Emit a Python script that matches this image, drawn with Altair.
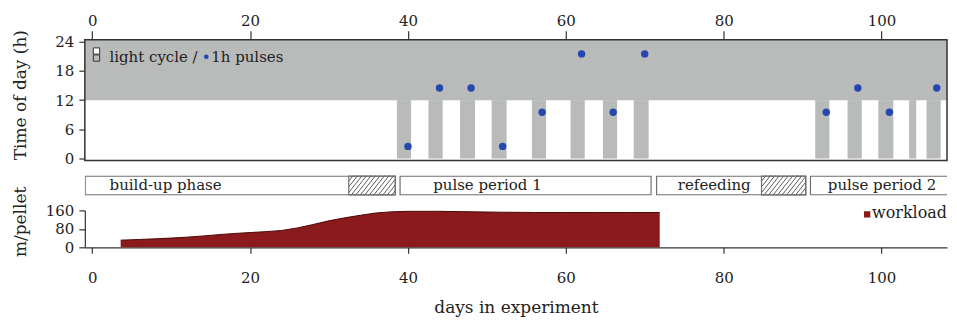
import altair as alt
import pandas as pd

# ---------------- data ----------------
day_ticks = [0, 20, 40, 60, 80, 100]
x_domain = [-0.94, 108.3]
hour_ticks = [0, 6, 12, 18, 24]
hour_domain = [-0.4, 24.4]
work_ticks = [0, 80, 160]
work_domain = [0, 160]

# light cycle: dark from 12 h to 24 h on every day
dark_from_hour = [12]
dark_from_day = [-1.0]
dark_to_day = [112.0]

# days with darkness also from 0 h to 12 h
dd_start = [38.6, 42.6, 46.6, 50.6, 55.7, 60.6, 64.7, 68.6, 91.6, 95.7, 99.6, 103.5, 105.7]
dd_end = [40.4, 44.4, 48.5, 52.5, 57.5, 62.4, 66.5, 70.5, 93.4, 97.5, 101.5, 104.4, 107.5]

# 1 h light pulses
pulse_day = [40, 44, 48, 52, 57, 62, 66, 70, 93, 97, 101, 107]
pulse_hour = [2.5, 14.5, 14.5, 2.5, 9.5, 21.5, 9.5, 21.5, 9.5, 14.5, 9.5, 14.5]

# experimental phases
phase_name = ["build-up phase", "pulse period 1", "refeeding", "pulse period 2"]
phase_start = [-0.9, 39.0, 71.5, 91.0]
phase_end = [38.4, 70.8, 90.4, 115.0]
phase_label_day = [2.2, 43.2, 74.2, 93.2]
hatch_start = [32.5, 84.8]
hatch_end = [38.4, 90.4]

# workload (m/pellet)
work_day = [3.6, 6, 8, 10, 12, 14, 16, 18, 20, 22, 24, 26, 28, 30, 32, 34, 36, 38,
            40, 44, 48, 52, 56, 60, 64, 68, 71.9]
work_val = [31, 34, 37, 40, 44, 49, 55, 60, 64, 68, 73, 84, 99, 115, 128, 139, 149, 154,
            156, 156, 154, 152, 151, 151, 151, 151, 151]

# ---------------- style ----------------
W = 864
H_TOP, H_PH, H_BOT = 121, 20, 37
FONT = "DejaVu Serif"
INK = "#222222"
GRAY = "#b9bbbb"
BLUE = "#2447b0"
RED = "#8b1a1c"
BOX = "#707070"
FRAME = "#333333"

xs = alt.Scale(domain=x_domain, nice=False, zero=False)
ys_top = alt.Scale(domain=hour_domain, nice=False, zero=False)
ys_ph = alt.Scale(domain=[0, 1], nice=False, zero=False)
ws = alt.Scale(domain=work_domain, nice=False, zero=True)

one = pd.DataFrame({"k": [0]})

# ---------------- top panel ----------------
top_x_axis = alt.Axis(orient="top", values=day_ticks, tickSize=9, labelPadding=2.5,
                      domain=False, grid=False, title=None, labelOverlap=False)
top_y_axis = alt.Axis(values=hour_ticks, tickSize=6, labelPadding=5, domain=False,
                      grid=False, title="Time of day (h)", titleX=-55, titleY=55,
                      labelOverlap=False, labelBound=False, labelFlush=False)

band = alt.Chart(pd.DataFrame({"d0": dark_from_day, "d1": dark_to_day, "h": dark_from_hour})).mark_rect(
    color=GRAY, clip=True
).encode(
    x=alt.X("d0:Q", scale=xs, axis=top_x_axis),
    x2="d1:Q",
    y=alt.Y("h:Q", scale=ys_top, axis=top_y_axis),
    y2=alt.value(0),
)

dd_df = pd.DataFrame({"s": dd_start, "e": dd_end, "h0": [0] * len(dd_start), "h1": [12] * len(dd_start)})
dd = alt.Chart(dd_df).mark_rect(color=GRAY).encode(
    x=alt.X("s:Q", scale=xs, axis=top_x_axis), x2="e:Q",
    y=alt.Y("h0:Q", scale=ys_top, axis=top_y_axis), y2="h1:Q",
)

pulses = alt.Chart(pd.DataFrame({"d": pulse_day, "h": pulse_hour})).mark_circle(
    color=BLUE, size=55, opacity=1
).encode(x=alt.X("d:Q", scale=xs, axis=top_x_axis), y=alt.Y("h:Q", scale=ys_top, axis=top_y_axis))

# frame around the top panel
frame = alt.Chart(one).mark_rect(fill="transparent", stroke=FRAME, strokeWidth=1.5).encode(
    x=alt.value(0), x2=alt.value(W), y=alt.value(0), y2=alt.value(H_TOP))

leg_sq1 = alt.Chart(one).mark_square(fill="white", stroke="#333", strokeWidth=1, size=40, opacity=1).encode(
    x=alt.value(11.7), y=alt.value(11.3))
leg_sq2 = alt.Chart(one).mark_square(fill=GRAY, stroke="#333", strokeWidth=1, size=40, opacity=1).encode(
    x=alt.value(11.7), y=alt.value(18.3))
leg_t1 = alt.Chart(one).mark_text(text="light cycle /", align="left", baseline="middle",
                                  font=FONT, fontSize=15, color=INK).encode(
    x=alt.value(24.7), y=alt.value(17))
leg_dot = alt.Chart(one).mark_circle(color=BLUE, size=22, opacity=1).encode(
    x=alt.value(121.7), y=alt.value(17))
leg_t2 = alt.Chart(one).mark_text(text="1h pulses", align="left", baseline="middle",
                                  font=FONT, fontSize=15, color=INK).encode(
    x=alt.value(126.7), y=alt.value(17))

top = alt.layer(band, dd, pulses, frame, leg_sq1, leg_sq2, leg_t1, leg_dot, leg_t2).properties(
    width=W, height=H_TOP
)

# ---------------- phase row ----------------
phase_df = pd.DataFrame({"name": phase_name, "s": phase_start, "e": phase_end, "ld": phase_label_day})
boxes = alt.Chart(phase_df).mark_rect(fill="white", stroke=BOX, strokeWidth=1.2, clip=True).encode(
    x=alt.X("s:Q", scale=xs, axis=None), x2="e:Q",
    y=alt.value(0.6), y2=alt.value(H_PH - 0.6),
)

# hatch lines inside hatched boxes (derived from hatch ranges)
step, slope = 0.57, 2.0
rows = []
for a, b in zip(hatch_start, hatch_end):
    x0 = a - slope
    while x0 < b:
        t_lo = max(0.0, (a - x0) / slope)
        t_hi = min(1.0, (b - x0) / slope)
        if t_hi > t_lo:
            rows.append({"x1": x0 + slope * t_lo, "y1": t_lo, "x2": x0 + slope * t_hi, "y2": t_hi})
        x0 += step
hatch_lines = alt.Chart(pd.DataFrame(rows)).mark_rule(color="#333333", strokeWidth=0.8).encode(
    x=alt.X("x1:Q", scale=xs, axis=None), x2="x2:Q",
    y=alt.Y("y1:Q", scale=ys_ph, axis=None), y2="y2:Q",
)
hatch_box = alt.Chart(pd.DataFrame({"s": hatch_start, "e": hatch_end})).mark_rect(
    fill="transparent", stroke=BOX, strokeWidth=1.2
).encode(
    x=alt.X("s:Q", scale=xs, axis=None), x2="e:Q",
    y=alt.value(0.6), y2=alt.value(H_PH - 0.6),
)
phase_text = alt.Chart(phase_df).mark_text(align="left", baseline="middle", font=FONT,
                                           fontSize=15, color=INK).encode(
    x=alt.X("ld:Q", scale=xs, axis=None), y=alt.value(H_PH / 2), text="name:N",
)
phase = alt.layer(boxes, hatch_lines, hatch_box, phase_text).properties(width=W, height=H_PH)

# ---------------- workload panel ----------------
bot_x_axis = alt.Axis(values=day_ticks, tickSize=6, labelPadding=17.5, grid=False,
                      title="days in experiment", titleY=52, labelOverlap=False)
bot_y_axis = alt.Axis(values=work_ticks, tickSize=6, labelPadding=5, grid=False,
                      title="m/pellet", titleX=-55, titleY=11, labelOverlap=False)
area = alt.Chart(pd.DataFrame({"d": work_day, "w": work_val})).mark_area(
    color=RED, opacity=1, line={"color": "#4a0808", "strokeWidth": 1}
).encode(
    x=alt.X("d:Q", scale=xs, axis=bot_x_axis),
    y=alt.Y("w:Q", scale=ws, axis=bot_y_axis),
)
wl_sq = alt.Chart(one).mark_square(color=RED, size=40, opacity=1).encode(x=alt.value(W - 80), y=alt.value(4))
wl_t = alt.Chart(one).mark_text(text="workload", align="right", baseline="middle", font=FONT,
                                fontSize=16, color=INK).encode(x=alt.value(W), y=alt.value(3))
bottom = alt.layer(area, wl_sq, wl_t).properties(width=W, height=H_BOT)

chart = alt.vconcat(top, phase, bottom, spacing=15, bounds="flush").properties(
    padding={"left": 3, "top": 4.5, "right": 0, "bottom": 0}
).configure_axis(
    labelFont=FONT, labelFontSize=15, labelColor=INK,
    titleFont=FONT, titleFontSize=17, titleFontWeight="normal", titleColor=INK,
    tickColor="#333333", domainColor="#333333", tickWidth=1.2, domainWidth=1.2,
).configure_view(stroke="transparent")

chart.save("out.html", embed_options={"renderer": "svg", "actions": False})
